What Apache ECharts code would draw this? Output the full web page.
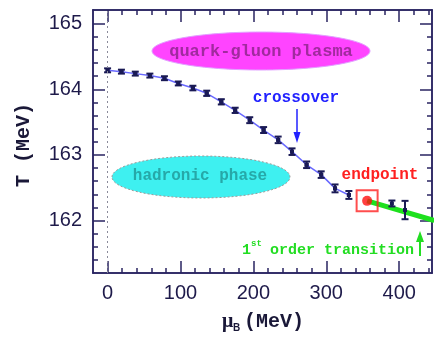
<!DOCTYPE html>
<html><head><meta charset="utf-8">
<script src="https://cdn.jsdelivr.net/npm/echarts@6/dist/echarts.min.js"></script>
<style>html,body{margin:0;padding:0;background:#fff}#c{width:434px;height:338px}</style>
</head><body><div id="c"></div>
<script>
// crossover line (lattice points)
const muCross  = [0, 19, 38, 58, 78, 97, 117, 136, 156, 175, 195, 214, 234, 253, 273, 293, 312, 331];
const tCross   = [164.29,164.27,164.24,164.21,164.17,164.09,164.02,163.94,163.81,163.68,163.53,163.38,163.23,163.05,162.85,162.70,162.49,162.39];
const errCross = [0.03,0.03,0.03,0.03,0.03,0.03,0.035,0.04,0.04,0.04,0.045,0.045,0.05,0.05,0.05,0.05,0.06,0.06];
// points beyond endpoint
const muFirst  = [390, 408];
const tFirst   = [162.26, 162.16];
const errFirst = [0.045, 0.14];
// endpoint
const muEnd = [356];
const tEnd  = [162.30];
// first order transition line
const muTrans = [356, 448];
const tTrans  = [162.30, 162.00];
// ticks
const xMajor = [0, 100, 200, 300, 400];
const xMinor = [20,40,60,80,120,140,160,180,220,240,260,280,320,340,360,380,420,440];
const yMajor = [162, 163, 164, 165];
const yMinor = [161.4,161.6,161.8,162.2,162.4,162.6,162.8,163.2,163.4,163.6,163.8,164.2,164.4,164.6,164.8];

const navy = '#2a2462';
const labCol = '#1e1a4a';
const X0 = -20, X1 = 445, Y0 = 161.2, Y1 = 165.21;

function xa(pos, ticks, len, labels) {
  return {type:'value', position:pos, min:X0, max:X1,
    axisLine:{show:true, onZero:false, lineStyle:{color:navy, width:1.5}},
    axisTick:{show:true, inside:true, length:len, customValues:ticks, lineStyle:{color:navy, width:1.5}},
    axisLabel:labels ? {show:true, customValues:ticks, fontSize:20, color:labCol, margin:10, fontFamily:'Liberation Sans'} : {show:false},
    splitLine:{show:false}};
}
function ya(pos, ticks, len, labels) {
  return {type:'value', position:pos, min:Y0, max:Y1,
    axisLine:{show:true, onZero:false, lineStyle:{color:navy, width:1.5}},
    axisTick:{show:true, inside:true, length:len, customValues:ticks, lineStyle:{color:navy, width:1.5}},
    axisLabel:labels ? {show:true, customValues:ticks, fontSize:20, color:labCol, margin:11, fontFamily:'Liberation Sans'} : {show:false},
    splitLine:{show:false}};
}

const crossData = muCross.map((m,i)=>[m, tCross[i], errCross[i]]);
const firstData = muFirst.map((m,i)=>[m, tFirst[i], errFirst[i]]);
const errData = crossData.concat(firstData);

const chart = echarts.init(document.getElementById('c'), null, {renderer:'canvas'});
chart.setOption({
  animation:false,
  grid:{left:93, right:2, top:10, bottom:65},
  xAxis:[xa('bottom', xMajor, 12, true), xa('bottom', xMinor, 5, false), xa('top', xMajor, 12, false), xa('top', xMinor, 5, false)],
  yAxis:[ya('left', yMajor, 12, true), ya('left', yMinor, 5, false), ya('right', yMajor, 12, false), ya('right', yMinor, 5, false)],
  graphic:[
    {type:'ellipse', z:-1, shape:{cx:261, cy:51, rx:109, ry:19}, style:{fill:'#ff44ff', stroke:'#e0a0ff', lineWidth:1}},
    {type:'text', z:-1, style:{text:'quark-gluon plasma', x:261, y:52, align:'center', verticalAlign:'middle', font:'bold 17px "Liberation Mono"', fill:'#a02a9e'}},
    {type:'ellipse', z:-1, shape:{cx:201, cy:177, rx:89, ry:21}, style:{fill:'#3ef0f0', stroke:'#9a9a9a', lineWidth:1, lineDash:[2,2]}},
    {type:'text', z:-1, style:{text:'hadronic phase', x:200, y:176, align:'center', verticalAlign:'middle', font:'bold 16px "Liberation Mono"', fill:'#26a8a8'}},
    {type:'text', style:{text:'crossover', x:296, y:98, align:'center', verticalAlign:'middle', font:'bold 16px "Liberation Mono"', fill:'#2222ff'}},
    {type:'line', shape:{x1:297, y1:109, x2:297, y2:134}, style:{stroke:'#2222ff', lineWidth:1.5}},
    {type:'polygon', shape:{points:[[293.5,132],[300.5,132],[297,143]]}, style:{fill:'#2222ff'}},
    {type:'text', style:{text:'endpoint', x:380, y:175, align:'center', verticalAlign:'middle', font:'bold 16px "Liberation Mono"', fill:'#ff2020'}},
    {type:'text', style:{text:'1', x:242, y:250, align:'left', verticalAlign:'middle', font:'bold 15px "Liberation Mono"', fill:'#22dd22'}},
    {type:'text', style:{text:'st', x:251, y:244, align:'left', verticalAlign:'middle', font:'bold 9px "Liberation Mono"', fill:'#22dd22'}},
    {type:'text', style:{text:'order transition', x:270, y:250, align:'left', verticalAlign:'middle', font:'bold 15px "Liberation Mono"', fill:'#22dd22'}},
    {type:'line', shape:{x1:420, y1:256, x2:420, y2:240}, style:{stroke:'#22dd22', lineWidth:2}},
    {type:'polygon', shape:{points:[[416,242],[424,242],[420,231]]}, style:{fill:'#22dd22'}},
    {type:'text', x:24, y:145, rotation:Math.PI/2, style:{text:'T (MeV)', x:0, y:0, align:'center', verticalAlign:'middle', font:'bold 20px "Liberation Mono"', fill:'#1a1838'}},
    {type:'text', style:{text:'μ', x:222, y:322, align:'left', verticalAlign:'middle', font:'bold 20px "Liberation Serif"', fill:'#1a1838'}},
    {type:'text', style:{text:'B', x:233, y:328, align:'left', verticalAlign:'middle', font:'bold 10px "Liberation Sans"', fill:'#1a1838'}},
    {type:'text', style:{text:'(MeV)', x:244, y:322, align:'left', verticalAlign:'middle', font:'bold 20px "Liberation Mono"', fill:'#1a1838'}}
  ],
  series:[
    {type:'line', data:[], xAxisIndex:0, yAxisIndex:0, silent:true,
     markLine:{silent:true, symbol:'none', label:{show:false}, lineStyle:{color:'#8a8a9a', type:[2,3], width:1}, data:[{xAxis:0}]}},
    {type:'line', data:muTrans.map((m,i)=>[m,tTrans[i]]), showSymbol:false, symbol:'none', clip:true, z:2,
     lineStyle:{color:'#1ee01e', width:5}},
    {type:'line', data:crossData.map(d=>[d[0],d[1]]), symbol:'rect', symbolSize:4, showSymbol:true, z:3,
     itemStyle:{color:'#1a1a60'}, lineStyle:{color:'#6a6aff', width:1.5}},
    {type:'custom', z:4, data:errData, renderItem:function(params, api){
       const x = api.value(0), y = api.value(1), e = api.value(2);
       const top = api.coord([x, y+e]), bot = api.coord([x, y-e]), c = api.coord([x,y]);
       const hw = 3.5;
       const st = {stroke:'#1a1a55', lineWidth:2};
       return {type:'group', children:[
         {type:'line', shape:{x1:top[0], y1:top[1], x2:bot[0], y2:bot[1]}, style:st},
         {type:'line', shape:{x1:top[0]-hw, y1:top[1], x2:top[0]+hw, y2:top[1]}, style:st},
         {type:'line', shape:{x1:bot[0]-hw, y1:bot[1], x2:bot[0]+hw, y2:bot[1]}, style:st},
         {type:'rect', shape:{x:c[0]-2, y:c[1]-2, width:4, height:4}, style:{fill:'#1a1a55'}}
       ]};
     }},
    {type:'scatter', z:5, data:muEnd.map((m,i)=>[m,tEnd[i]]), symbol:'rect', symbolSize:21,
     itemStyle:{color:'rgba(255,255,255,0)', borderColor:'#ff2020', borderWidth:2}},
    {type:'scatter', z:6, data:muEnd.map((m,i)=>[m,tEnd[i]]), symbol:'circle', symbolSize:10,
     itemStyle:{color:'#ff1010'}}
  ]
});
</script></body></html>
